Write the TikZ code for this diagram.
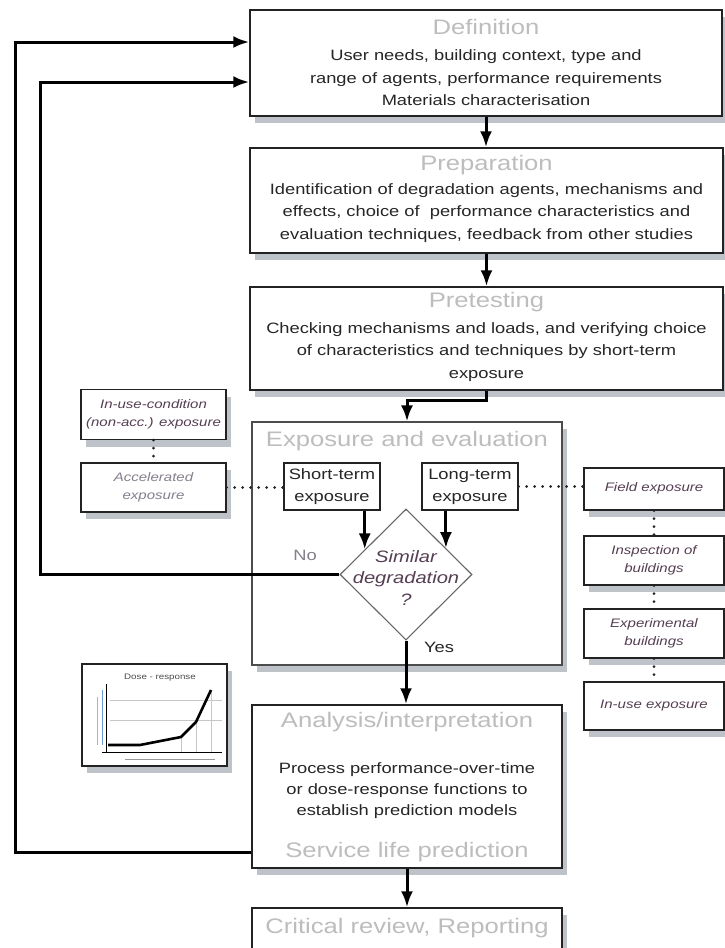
\documentclass[tikz,border=0pt]{standalone}
\usepackage{fontspec}
\setmainfont{Liberation Sans}[FakeStretch=1.22]
\usetikzlibrary{shapes.geometric,arrows.meta,shadows,calc}
\definecolor{boxline}{HTML}{222222}
\definecolor{titlegray}{HTML}{BDBDBD}
\definecolor{bodytext}{HTML}{262626}
\definecolor{italtext}{HTML}{553F53}
\definecolor{lightital}{HTML}{857F8C}
\definecolor{shadowc}{HTML}{A9AEB7}
\tikzset{
  box/.style={draw=boxline, line width=1.5pt, fill=white, rectangle, inner sep=0pt,
    drop shadow={shadow xshift=5pt, shadow yshift=-7pt, fill=shadowc, opacity=0.75}},
  sbox/.style={draw=boxline, line width=1.3pt, fill=white, rectangle, inner sep=0pt},
  ttl/.style={font=\fontsize{21}{25}\selectfont, text=titlegray, inner sep=0pt},
  bodyt/.style={font=\fontsize{15}{22.5}\selectfont, text=bodytext, align=center, inner sep=0pt},
  ital/.style={font=\fontsize{12.3}{18}\selectfont\itshape, text=italtext, align=center, inner sep=0pt},
  arr/.style={line width=3pt, draw=black, -{Latex[length=16pt,width=12pt]}},
  dotline/.style={line width=3pt, draw=boxline, dash pattern=on 0pt off 8pt, line cap=round}
}
\begin{document}
\begin{tikzpicture}[x=1pt,y=-1pt]
\useasboundingbox[fill=white] (0,0) rectangle (725,948);

% main boxes
\node[box, minimum width=472pt, minimum height=106pt] (def) at (486,63) {};
\node[ttl] (defT) at (486,27) {Definition};
\node[bodyt] (defB) at (486,78) {User needs, building context, type and\\range of agents, performance requirements\\Materials characterisation};

\node[box, minimum width=473pt, minimum height=105pt] (prep) at (486.5,200.5) {};
\node[ttl] (prepT) at (486.5,165) {Preparation};
\node[bodyt] (prepB) at (486.5,213) {Identification of degradation agents, mechanisms and\\effects, choice of \ performance characteristics and\\evaluation techniques, feedback from other studies};

\node[box, minimum width=473pt, minimum height=103pt] (pre) at (486.5,338.5) {};
\node[ttl] (preT) at (486.5,302) {Pretesting};
\node[bodyt] (preB) at (486.5,352) {Checking mechanisms and loads, and verifying choice\\of characteristics and techniques by short-term\\exposure};

% exposure and evaluation
\node[box, draw=black!70, line width=1.1pt, minimum width=310pt, minimum height=243pt] (expo) at (407,543.5) {};
\node[ttl] (expoT) at (407,441) {Exposure and evaluation};
\node[sbox, minimum width=96pt, minimum height=47pt] (short) at (332,486.5) {};
\node[bodyt, font=\fontsize{15}{22}\selectfont] (shortT) at (332,487) {Short-term\\exposure};
\node[sbox, minimum width=96pt, minimum height=47pt] (long) at (470,486.5) {};
\node[bodyt, font=\fontsize{15}{22}\selectfont] (longT) at (470,487) {Long-term\\exposure};
\node[diamond, draw=black!60, line width=1.1pt, fill=white, minimum width=132pt, minimum height=131pt, inner sep=0pt] (dia) at (406,574.5) {};
\node[ital, font=\fontsize{16.5}{21.5}\selectfont\itshape] (diaT) at (406,578) {Similar\\degradation\\?};
\node[bodyt, text=lightital] (no) at (305,555) {No};
\node[bodyt] (yes) at (439,647) {Yes};

% left boxes
\node[box, line width=1.3pt, minimum width=145pt, minimum height=50pt] (inuse) at (153.5,414.5) {};
\node[ital] (inuseT) at (153.5,414.5) {In-use-condition\\(non-acc.) exposure};
\node[box, line width=1.3pt, minimum width=145pt, minimum height=49pt] (accel) at (153.5,487.5) {};
\node[ital, text=lightital] (accelT) at (153.5,487.5) {Accelerated\\exposure};

% right boxes
\node[box, line width=1.3pt, minimum width=140pt, minimum height=42pt] (field) at (654,489) {};
\node[ital] (fieldT) at (654,488) {Field exposure};
\node[box, line width=1.3pt, minimum width=140pt, minimum height=49pt] (insp) at (654,560.5) {};
\node[ital] (inspT) at (654,560.5) {Inspection of\\buildings};
\node[box, line width=1.3pt, minimum width=140pt, minimum height=49pt] (exper) at (654,633.5) {};
\node[ital] (experT) at (654,633.5) {Experimental\\buildings};
\node[box, line width=1.3pt, minimum width=140pt, minimum height=48pt] (inuse2) at (654,706) {};
\node[ital] (inuse2T) at (654,706) {In-use exposure};

% chart
\node[box, line width=1.1pt, minimum width=145pt, minimum height=102pt] (chart) at (154.5,715) {};
\node[font=\fontsize{8}{9}\selectfont, text=black!70, inner sep=0pt] (chartT) at (160,678) {Dose - response};
\draw[black!22, line width=0.5pt] (110,700) -- (222,700) (110,720) -- (222,720);
\draw[black!22, line width=0.5pt] (181,737) -- (181,752) (196,722) -- (196,752) (211,690) -- (211,752);
\draw[orange!50!brown!70, line width=1pt] (97,697) -- (97,745);
\draw[cyan!50!blue!60, line width=1pt] (102,690) -- (102,745);
\draw[black, line width=0.9pt] (106,684) -- (106,753) (102,752) -- (222,752);
\draw[black!40, line width=1pt] (125,759) -- (215,759);
\draw[black, line width=2.6pt, line join=round] (108,745) -- (140,745) -- (181,737) -- (196,722) -- (211,690);

% analysis and review
\node[box, minimum width=310pt, minimum height=163pt] (ana) at (407,786.5) {};
\node[ttl] (anaT) at (407,722) {Analysis/interpretation};
\node[bodyt, font=\fontsize{15}{21}\selectfont] (anaB) at (407,791) {Process performance-over-time\\or dose-response functions to\\establish prediction models};
\node[ttl] (anaS) at (407,852) {Service life prediction};
\node[box, minimum width=310pt, minimum height=56pt] (crit) at (407,936) {};
\node[ttl] (critT) at (407,928) {Critical review, Reporting};

% coordinates
\coordinate (fbNo) at (40,0);
\coordinate (fbOut) at (15,0);
\coordinate (defIn1) at ($(def.west)+(0,-21)$);
\coordinate (defIn2) at ($(def.west)+(0,19)$);
\coordinate (anaOut) at ($(ana.west)+(0,65.5)$);
\coordinate (dL) at ($(dia.west)!0.38!(dia.north)$);
\coordinate (dR) at ($(dia.east)!0.4!(dia.north)$);

% arrows
\draw[arr] (def.south) -- (def.south |- prep.north);
\draw[arr] (prep.south) -- (prep.south |- pre.north);
\draw[arr] (pre.south) -- ++(0,10) -| (expo.north);
\draw[arr] (short.south -| dL) -- (dL);
\draw[arr] (long.south -| dR) -- (dR);
\draw[arr] (dia.south) -- (dia.south |- ana.north);
\draw[arr] (ana.south) -- (ana.south |- crit.north);
\draw[arr] (dia.west) -- (dia.west -| fbNo) |- (defIn2);
\draw[arr] (anaOut) -- (anaOut -| fbOut) |- (defIn1);

% dotted links
\draw[dotline] (inuse.south) -- (accel.north);
\draw[dotline] (accel.east) -- (accel.east -| short.west);
\draw[dotline] (long.east) -- (long.east -| field.west);
\draw[dotline] (field.south) -- (insp.north);
\draw[dotline] (insp.south) -- (exper.north);
\draw[dotline] (exper.south) -- (inuse2.north);
\end{tikzpicture}
\end{document}
